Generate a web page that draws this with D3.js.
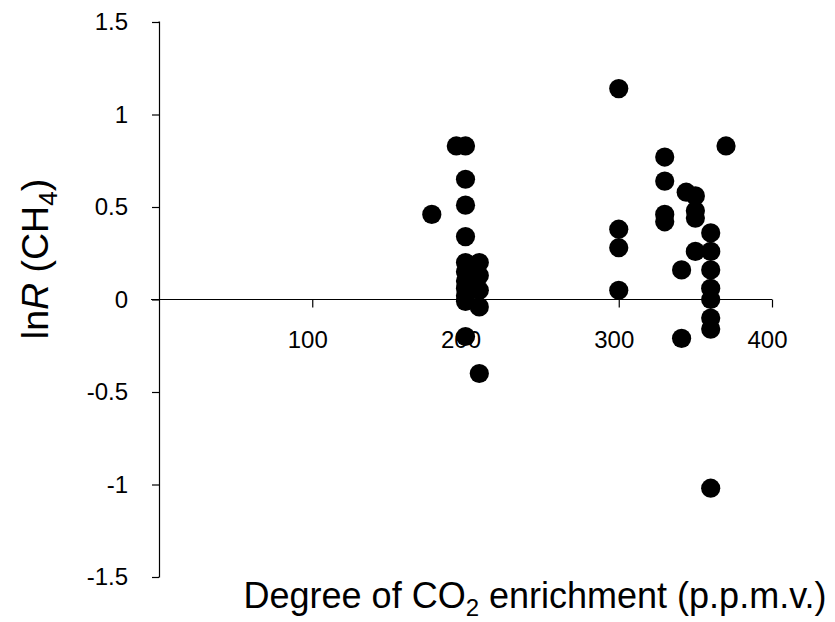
<!DOCTYPE html>
<html>
<head>
<meta charset="utf-8">
<script src="https://cdn.jsdelivr.net/npm/d3@7"></script>
<style>
  html, body { margin: 0; padding: 0; background: #fff; }
  svg { display: block; font-family: "Liberation Sans", Arial, sans-serif; }
</style>
</head>
<body>
<svg id="chart" width="835" height="622"></svg>
<script>
// ---- data ----
const co2Enrichment = [
  178, 194, 200, 200, 200, 200, 200, 200, 200, 200, 200, 200, 200,
  209, 209, 209, 209, 209,
  300, 300, 300, 300,
  330, 330, 330, 330,
  341, 341, 344,
  350, 350, 350, 350,
  360, 360, 360, 360, 360, 360, 360, 360,
  370
];
const lnR = [
  0.46, 0.83, 0.83, 0.65, 0.51, 0.34, 0.20, 0.15, 0.10, 0.06, 0.02, -0.01, -0.20,
  0.20, 0.13, 0.05, -0.04, -0.40,
  1.14, 0.38, 0.28, 0.05,
  0.77, 0.64, 0.46, 0.42,
  0.16, -0.21, 0.58,
  0.56, 0.48, 0.44, 0.26,
  0.36, 0.26, 0.16, 0.06, 0.00, -0.10, -0.16, -1.02,
  0.83
];
const xTicks = [100, 200, 300, 400];
const yTicks = [-1.5, -1, -0.5, 0, 0.5, 1, 1.5];
const yTickLabels = ["-1.5", "-1", "-0.5", "0", "0.5", "1", "1.5"];

// ---- layout ----
const svg = d3.select("#chart");
const x = d3.scaleLinear().domain([0, 400]).range([159, 772]);
const y = d3.scaleLinear().domain([-1.5, 1.5]).range([577, 22]);

// y axis (vertical line at x=0, ticks to the left)
const yAxis = d3.axisLeft(y)
  .tickValues(yTicks)
  .tickSize(7)
  .tickPadding(24)
  .tickFormat((d, i) => yTickLabels[i]);
const gy = svg.append("g").attr("transform", `translate(${x(0)},0)`).call(yAxis);
gy.select(".domain").attr("d", `M-0.5,${y(1.5)}H0.5V${y(-1.5)}H-0.5`).attr("stroke", "#000").attr("stroke-width", 1.2);
gy.selectAll(".tick line").attr("stroke", "#000").attr("stroke-width", 1.2);
gy.selectAll(".tick text").attr("font-size", 24).attr("fill", "#000")
  .attr("font-family", "'Liberation Sans', Arial, sans-serif");

// x axis at y=0, ticks down, labels further below
const xAxis = d3.axisBottom(x)
  .tickValues(xTicks)
  .tickSize(8)
  .tickSizeOuter(0)
  .tickPadding(23);
const gx = svg.append("g").attr("transform", `translate(0,${y(0)})`).call(xAxis);
gx.select(".domain").attr("d", `M${x(0) - 8},0H${x(400)}`).attr("stroke", "#000").attr("stroke-width", 1.2);
gx.selectAll(".tick line").attr("stroke", "#000").attr("stroke-width", 1.2);
gx.selectAll(".tick text").attr("font-size", 24).attr("fill", "#000")
  .attr("dx", -5)
  .attr("font-family", "'Liberation Sans', Arial, sans-serif");

// points
const pts = co2Enrichment.map((v, i) => ({ x: v, y: lnR[i] }));
svg.append("g").selectAll("circle").data(pts).join("circle")
  .attr("cx", d => x(d.x))
  .attr("cy", d => y(d.y))
  .attr("r", 9.6)
  .attr("fill", "#000");

// axis titles
const xt = svg.append("text")
  .attr("x", 535).attr("y", 608)
  .attr("text-anchor", "middle")
  .attr("font-size", 36)
  .attr("fill", "#000");
xt.append("tspan").text("Degree of CO");
xt.append("tspan").attr("font-size", 24).attr("dy", 8).text("2");
xt.append("tspan").attr("dy", -8).text(" enrichment (p.p.m.v.)");

const yt = svg.append("text")
  .attr("transform", "translate(48,259) rotate(-90)")
  .attr("text-anchor", "middle")
  .attr("font-size", 37.5)
  .attr("fill", "#000");
yt.append("tspan").text("ln");
yt.append("tspan").attr("font-style", "italic").text("R");
yt.append("tspan").text(" (CH");
yt.append("tspan").attr("font-size", 26).attr("dy", 9).text("4");
yt.append("tspan").attr("dy", -9).text(")");
</script>
</body>
</html>
